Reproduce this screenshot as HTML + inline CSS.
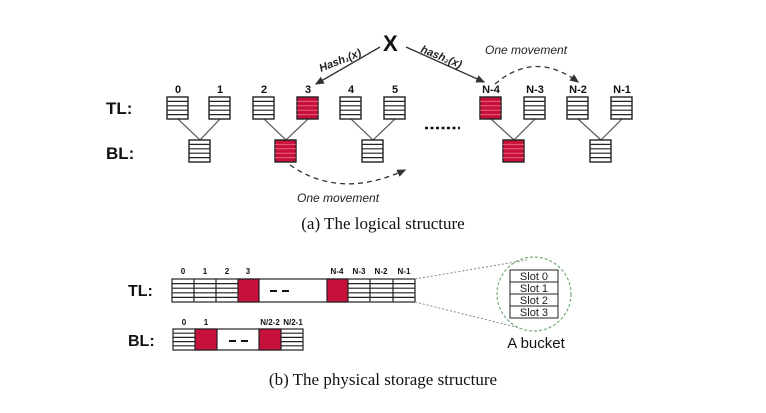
<!DOCTYPE html>
<html><head><style>
body{margin:0;background:#fff;}
svg text{font-family:"Liberation Sans",sans-serif;}
</style></head><body>
<svg width="766" height="408" viewBox="0 0 766 408" xmlns="http://www.w3.org/2000/svg">
<defs>
<marker id="ah" markerWidth="8" markerHeight="8" refX="6" refY="3" orient="auto"><path d="M0,0 L7,3 L0,6 Z" fill="#333"/></marker>
<g id="bw"><rect x="0" y="0" width="21" height="22" fill="#fff" stroke="#222" stroke-width="1.4"/><path d="M0,4.4H21M0,8.8H21M0,13.2H21M0,17.6H21" stroke="#222" stroke-width="1.2"/></g>
<g id="br"><rect x="0" y="0" width="21" height="22" fill="#c8103c" stroke="#222" stroke-width="1.4"/><path d="M0,4.4H21M0,8.8H21M0,13.2H21M0,17.6H21" stroke="#e8607a" stroke-width="1"/></g>
</defs>
<g stroke="#555" stroke-width="1.2" fill="none">
<path d="M178,119L200,140M220,119L200,140"/>
<path d="M264,119L286,140M308,119L286,140"/>
<path d="M351,119L373,140M395,119L373,140"/>
<path d="M491,119L514,140M535,119L514,140"/>
<path d="M578,119L601,140M622,119L601,140"/>
</g>
<g font-size="11" font-weight="bold" text-anchor="middle" fill="#111">
<text x="178" y="93">0</text><text x="220" y="93">1</text><text x="264" y="93">2</text><text x="308" y="93">3</text><text x="351" y="93">4</text><text x="395" y="93">5</text>
<text x="491" y="93">N-4</text><text x="535" y="93">N-3</text><text x="578" y="93">N-2</text><text x="622" y="93">N-1</text>
</g>
<use href="#bw" x="167" y="97"/><use href="#bw" x="209" y="97"/><use href="#bw" x="253" y="97"/><use href="#br" x="297" y="97"/><use href="#bw" x="340" y="97"/><use href="#bw" x="384" y="97"/>
<use href="#br" x="480" y="97"/><use href="#bw" x="524" y="97"/><use href="#bw" x="567" y="97"/><use href="#bw" x="611" y="97"/>
<use href="#bw" x="189" y="140"/><use href="#br" x="275" y="140"/><use href="#bw" x="362" y="140"/><use href="#br" x="503" y="140"/><use href="#bw" x="590" y="140"/>
<text x="106" y="114" font-size="17" font-weight="bold" fill="#111">TL:</text>
<text x="106" y="159" font-size="17" font-weight="bold" fill="#111">BL:</text>
<path d="M425,128H460" stroke="#111" stroke-width="2.5" stroke-dasharray="3,2.5"/>
<text x="383" y="51" font-size="22" font-weight="bold" fill="#111">X</text>
<line x1="380" y1="47" x2="316" y2="84" stroke="#333" stroke-width="1.3" marker-end="url(#ah)"/>
<text x="0" y="0" font-size="11" font-style="italic" font-weight="bold" fill="#222" transform="translate(321,72) rotate(-22)">Hash₁(x)</text>
<line x1="406" y1="47" x2="484" y2="82" stroke="#333" stroke-width="1.3" marker-end="url(#ah)"/>
<text x="0" y="0" font-size="11" font-style="italic" font-weight="bold" fill="#222" transform="translate(420,52) rotate(22)">hash₂(x)</text>
<text x="485" y="54" font-size="12" font-style="italic" fill="#222">One movement</text>
<path d="M495,84 Q535,50 578,82" fill="none" stroke="#333" stroke-width="1.3" stroke-dasharray="5,4" marker-end="url(#ah)"/>
<path d="M290,165 Q340,200 405,170" fill="none" stroke="#333" stroke-width="1.3" stroke-dasharray="5,4" marker-end="url(#ah)"/>
<text x="297" y="202" font-size="12" font-style="italic" fill="#222">One movement</text>
<text x="383" y="229" font-size="17" text-anchor="middle" fill="#111" style="font-family:'Liberation Serif',serif">(a) The logical structure</text>
<g font-size="8" font-weight="bold" fill="#111" text-anchor="middle">
<text x="183" y="274">0</text><text x="205" y="274">1</text><text x="227" y="274">2</text><text x="248" y="274">3</text>
<text x="337" y="274">N-4</text><text x="359" y="274">N-3</text><text x="381" y="274">N-2</text><text x="404" y="274">N-1</text>
<text x="184" y="325">0</text><text x="206" y="325">1</text><text x="270" y="325">N/2-2</text><text x="293" y="325">N/2-1</text>
</g>
<g stroke="#222" stroke-width="1.2">
<rect x="172" y="279" width="243" height="23" fill="#fff"/>
<rect x="238" y="279" width="21" height="23" fill="#c8103c"/>
<rect x="327" y="279" width="21" height="23" fill="#c8103c"/>
<path d="M172,283.6H238M172,288.2H238M172,292.8H238M172,297.4H238M348,283.6H415M348,288.2H415M348,292.8H415M348,297.4H415" fill="none"/>
<path d="M194,279V302M216,279V302M370,279V302M393,279V302" fill="none"/>
<rect x="173" y="329" width="130" height="21" fill="#fff"/>
<rect x="195" y="329" width="22" height="21" fill="#c8103c"/>
<rect x="259" y="329" width="22" height="21" fill="#c8103c"/>
<path d="M173,333.2H195M173,337.4H195M173,341.6H195M173,345.8H195M281,333.2H303M281,337.4H303M281,341.6H303M281,345.8H303" fill="none"/>
</g>
<path d="M270,291H277M282,291H289M229,341H236M241,341H248" stroke="#111" stroke-width="2"/>
<text x="128" y="296" font-size="16" font-weight="bold" fill="#111">TL:</text>
<text x="128" y="346" font-size="16" font-weight="bold" fill="#111">BL:</text>
<path d="M415,279L527,260M415,302L520,328" stroke="#888" stroke-width="1" stroke-dasharray="2,2" fill="none"/>
<circle cx="534" cy="294" r="37" fill="none" stroke="#7a7" stroke-width="1.2" stroke-dasharray="3,2"/>
<g stroke="#222" stroke-width="1" fill="#fff">
<rect x="510" y="270" width="48" height="48"/>
<path d="M510,282H558M510,294H558M510,306H558"/>
</g>
<g font-size="11" fill="#222" text-anchor="middle">
<text x="534" y="280">Slot 0</text><text x="534" y="292">Slot 1</text><text x="534" y="304">Slot 2</text><text x="534" y="316">Slot 3</text>
</g>
<text x="536" y="348" font-size="15" text-anchor="middle" fill="#111">A bucket</text>
<text x="383" y="385" font-size="17" text-anchor="middle" fill="#111" style="font-family:'Liberation Serif',serif">(b) The physical storage structure</text>
</svg>
</body></html>
